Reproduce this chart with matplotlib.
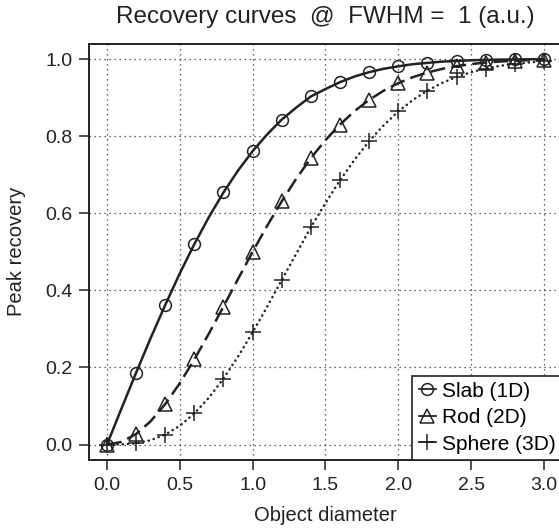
import matplotlib
matplotlib.use('Agg')
import matplotlib.pyplot as plt
import numpy as np

plt.rcParams['font.family'] = ['Liberation Sans', 'DejaVu Sans']

# object diameter (line samples every 0.1, markers every 0.2)
diameter = np.round(np.arange(0, 31) * 0.1, 1)

slab = [0.0, 0.0937, 0.186, 0.2761, 0.362, 0.4439, 0.520, 0.5901, 0.654, 0.7108,
        0.761, 0.8046, 0.843, 0.8743, 0.903, 0.9222, 0.940, 0.9547, 0.966, 0.9747,
        0.981, 0.9866, 0.990, 0.9933, 0.995, 0.9968, 0.9976, 0.9985, 0.9989, 0.9993, 0.9995]
rod = [0.0, 0.0069, 0.0274, 0.0605, 0.105, 0.1591, 0.221, 0.2880, 0.358, 0.4296,
       0.500, 0.5677, 0.631, 0.6900, 0.743, 0.7898, 0.830, 0.8651, 0.894, 0.9181,
       0.9375, 0.9530, 0.965, 0.9744, 0.9815, 0.9869, 0.9908, 0.9936, 0.9956, 0.9971, 0.998]
sphere = [0.0, 0.0004, 0.0033, 0.0113, 0.026, 0.0488, 0.0807, 0.1217, 0.1714, 0.2283,
          0.2912, 0.3577, 0.427, 0.4953, 0.5636, 0.6262, 0.6857, 0.7391, 0.787, 0.8284,
          0.864, 0.8938, 0.918, 0.9380, 0.9537, 0.9658, 0.9753, 0.9824, 0.9876, 0.9913, 0.9941]

labels = ['Slab (1D)', 'Rod (2D)', 'Sphere (3D)']

fig = plt.figure(figsize=(5.59, 5.29), dpi=100)
ax = fig.add_axes([0.160, 0.1304, 0.8445, 0.7872])

ink = '#222222'
styles = [('-', 'o', 8.5), ((0, (6, 2.5)), '^', 10), ((0, (0.1, 2.0)), '+', 11)]
for vals, lab, (ls, mk, ms) in zip([slab, rod, sphere], labels, styles):
    vals = np.array(vals)
    ax.plot(diameter, vals, color=ink, linestyle=ls, linewidth=1.8,
            dash_capstyle='round' if mk == '+' else 'butt', zorder=3)
    ax.plot(diameter[::2], vals[::2], linestyle='none', marker=mk, markersize=ms,
            markerfacecolor='none', markeredgecolor=ink, markeredgewidth=1.1, zorder=4)
    # legend handle
    ax.plot([], [], color=ink, linestyle='-', linewidth=1.3, marker=mk, markersize=ms,
            markerfacecolor='none', markeredgecolor=ink, markeredgewidth=1.1, label=lab)

ax.set_xlim(-0.12, 3.12)
ax.set_ylim(-0.04, 1.04)
ax.set_xticks(np.arange(0, 3.01, 0.5))
ax.set_yticks(np.arange(0, 1.01, 0.2))
ax.set_xticklabels(['%.1f' % v for v in np.arange(0, 3.01, 0.5)])
ax.set_yticklabels(['%.1f' % v for v in np.arange(0, 1.01, 0.2)])
ax.grid(True, color='#333333', linestyle=(0, (1, 3)), linewidth=0.9)
ax.tick_params(direction='out', length=7, width=1.1, labelsize=14, colors=ink, pad=5)
for s in ax.spines.values():
    s.set_linewidth(1.4)
    s.set_color(ink)

ax.set_xlabel('Object diameter', fontsize=14.5, color=ink, labelpad=9)
ax.set_ylabel('Peak recovery', fontsize=14.5, color=ink, labelpad=14)
ax.set_title('Recovery curves  @  FWHM =  1 (a.u.)', fontsize=17.5, color=ink, pad=15)

leg = ax.legend(loc='lower right', borderaxespad=0, fancybox=False, framealpha=1,
                edgecolor=ink, fontsize=15, handlelength=0.85, handletextpad=0.25,
                labelspacing=0.36, borderpad=0.3)
leg.get_frame().set_linewidth(1.2)

fig.savefig('out.png', dpi=100)
